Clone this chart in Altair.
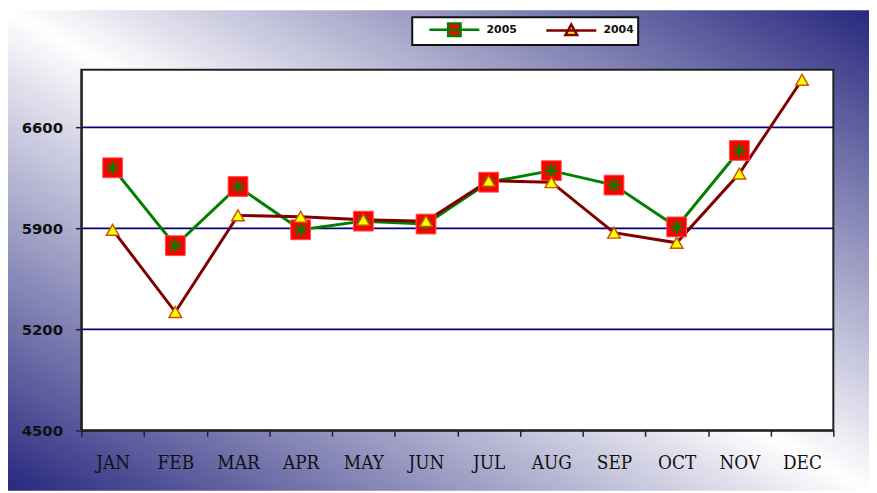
import altair as alt
import pandas as pd

months = ["JAN", "FEB", "MAR", "APR", "MAY", "JUN", "JUL", "AUG", "SEP", "OCT", "NOV", "DEC"]
series_names = ["2005", "2004"]
values_2005 = [6320, 5780, 6190, 5890, 5950, 5930, 6220, 6300, 6200, 5910, 6440, None]
values_2004 = [5890, 5320, 5990, 5980, 5960, 5950, 6230, 6220, 5870, 5800, 6280, 6930]
y_ticks = [4500, 5200, 5900, 6600]
grid_values = [5200, 5900, 6600]

rows = []
for s, vals in zip(series_names, [values_2005, values_2004]):
    for m, v in zip(months, vals):
        if v is not None:
            rows.append({"month": m, "series": s, "value": v})
df = pd.DataFrame(rows)

W, H = 759, 364
PL, PT, PR, PB = 74, 60, 36, 61

ASTER = "M-1,0L1,0M0,-1L0,1M-0.7,-0.7L0.7,0.7M-0.7,0.7L0.7,-0.7"
LEG_2005 = "M-3.6,0H3.6M-0.9,-0.9H0.9V0.9H-0.9Z"
LEG_2004 = "M-3.6,0H3.6M0,-0.85L0.85,0.65H-0.85Z"

x_scale = alt.Scale(type="band", domain=months, paddingInner=0, paddingOuter=0)
x_axis = alt.Axis(title=None, labelAngle=0, tickBand="extent", tickSize=6, tickWidth=1.5,
                  tickColor="#222222", domainColor="#222222", domainWidth=2,
                  labelFont="'DejaVu Serif Condensed', 'DejaVu Serif'", labelFontSize=19,
                  labelColor="#111111", labelPadding=18, zindex=1)
y_scale = alt.Scale(domain=[4500, 7000], nice=False, zero=False)
y_axis = alt.Axis(title=None, values=y_ticks, format="d", grid=False, tickSize=6, tickWidth=1.5,
                  tickColor="#222222", domainColor="#222222", domainWidth=2,
                  labelFont="DejaVu Sans", labelFontSize=15, labelFontWeight="bold",
                  labelColor="#111111", labelPadding=13, zindex=1)

x_enc = alt.X("month:N", sort=months, scale=x_scale, axis=x_axis)
y_enc = alt.Y("value:Q", scale=y_scale, axis=y_axis, title=None)

fill_scale = alt.Scale(domain=series_names, range=["#ff0000", "#ffff00"])
stroke_scale = alt.Scale(domain=series_names, range=["#008000", "#800000"])
shape_scale = alt.Scale(domain=series_names, range=[LEG_2005, LEG_2004])

leg = alt.Legend(title=None, orient="none", legendX=334, legendY=-53, direction="horizontal",
                 fillColor="white", strokeColor="#111111", padding=4,
                 symbolSize=196, symbolStrokeWidth=2.5, symbolOffset=30, labelOffset=24,
                 columnPadding=16, symbolOpacity=1, symbolFillColor="#ff0000",
                 symbolStrokeColor="#008000", labelFont="DejaVu Sans", labelFontSize=11,
                 labelFontWeight="bold", labelColor="#111111", zindex=1)

gradient = {
    "gradient": "linear", "x1": 0, "y1": 1, "x2": 1, "y2": 0,
    "stops": [
        {"offset": 0, "color": "#28287f"},
        {"offset": 0.5, "color": "#ffffff"},
        {"offset": 1, "color": "#28287f"},
    ],
}

one = alt.Data(values=[{"a": 1}])

bg = alt.Chart(one).mark_rect(fill=gradient).encode(
    x=alt.value(-PL), x2=alt.value(W + PR), y=alt.value(-PT), y2=alt.value(H + PB)
)
plotbg = alt.Chart(one).mark_rect(fill="white", stroke="#222222", strokeWidth=2).encode(
    x=alt.value(0), x2=alt.value(W), y=alt.value(0), y2=alt.value(H)
)

base = alt.Chart(df)

legend_layer = base.mark_point(opacity=1).encode(
    fill=alt.Fill("series:N", scale=fill_scale, legend=leg),
    stroke=alt.Stroke("series:N", scale=stroke_scale, legend=leg),
    shape=alt.Shape("series:N", scale=shape_scale, legend=leg),
    size=alt.value(0),
)

grid = alt.Chart(pd.DataFrame({"v": grid_values})).mark_rule(color="#000080", strokeWidth=1.6).encode(
    y=alt.Y("v:Q", scale=y_scale, axis=y_axis, title=None)
)

lines = base.mark_line(strokeWidth=3).encode(
    x=x_enc, y=y_enc,
    stroke=alt.Stroke("series:N", scale=stroke_scale, legend=None),
)

squares = base.transform_filter(alt.datum.series == "2005").mark_point(
    shape="square", filled=True, size=400, opacity=1, stroke="#ff5050", strokeWidth=1
).encode(
    x=x_enc, y=y_enc,
    fill=alt.Fill("series:N", scale=fill_scale, legend=None),
)

asterisks = base.transform_filter(alt.datum.series == "2005").mark_point(
    shape=ASTER, size=210, opacity=1, color="#008000", strokeWidth=1.6
).encode(x=x_enc, y=y_enc)

triangles = base.transform_filter(alt.datum.series == "2004").mark_point(
    shape="triangle-up", filled=True, size=160, opacity=1, stroke="#cc5500", strokeWidth=1.5
).encode(
    x=x_enc, y=y_enc,
    fill=alt.Fill("series:N", scale=fill_scale, legend=None),
)

chart = alt.layer(bg, plotbg, legend_layer, grid, lines, squares, asterisks, triangles).properties(
    width=W, height=H,
    autosize=alt.AutoSizeParams(type="none"),
    padding={"left": PL, "top": PT, "right": PR, "bottom": PB},
    background="white",
).configure_view(stroke=None).configure_legend(strokeWidth=2)

chart.save("out.html", embed_options={"renderer": "svg", "actions": False})
